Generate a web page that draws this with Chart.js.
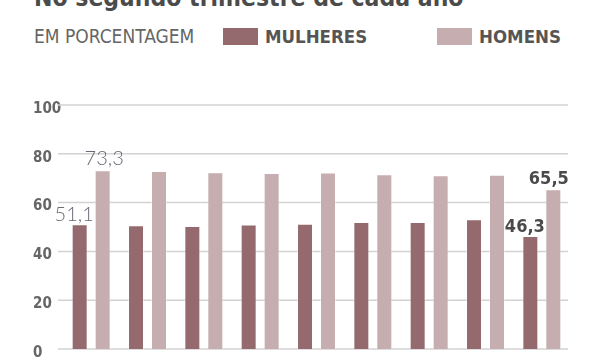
<!DOCTYPE html>
<html>
<head>
<meta charset="UTF-8">
<style>
  body { margin: 0; background: #fff; }
  .wrap { position: relative; width: 600px; height: 360px; overflow: hidden; }
  .title {
    position: absolute; left: 34px; top: -15px; line-height: 25px;
    font-family: "DejaVu Sans Condensed", sans-serif;
    font-weight: bold; font-size: 24.5px; color: #4b4b4b; white-space: nowrap;
  }
  .sub {
    position: absolute; left: 34px; top: 27px; line-height: 19px;
    font-family: "DejaVu Sans Condensed", sans-serif;
    font-size: 19px; color: #666; white-space: nowrap;
  }
  .leg {
    position: absolute; top: 27px; line-height: 19px;
    font-family: "DejaVu Sans Condensed", sans-serif;
    font-weight: bold; font-size: 18.5px; color: #555; white-space: nowrap;
  }
  .leg span.box { display: inline-block; width: 35px; height: 17px; vertical-align: -2px; margin-right: 7px; }
  canvas { position: absolute; left: 0; top: 0; }
</style>
</head>
<body>
<div class="wrap">
  <div class="title">No segundo trimestre de cada ano</div>
  <div class="sub">EM PORCENTAGEM</div>
  <div class="leg" id="leg0" style="left:223px"></div>
  <div class="leg" id="leg1" style="left:437px"></div>
  <canvas id="myChart" width="600" height="360"></canvas>
</div>
<script src="https://cdn.jsdelivr.net/npm/chart.js"></script>
<script>
// one group per year (9 years)
var categories = ["1", "2", "3", "4", "5", "6", "7", "8", "9"];
var mulheres = [51.1, 50.7, 50.4, 51.0, 51.3, 52.0, 52.0, 53.2, 46.3];
var homens = [73.3, 72.9, 72.4, 72.1, 72.3, 71.6, 71.2, 71.4, 65.5];
var seriesNames = ["MULHERES", "HOMENS"];
var yTicks = [0, 20, 40, 60, 80, 100];

var colors = ["#946a6e", "#c5adb0"];

// legend in html
for (var i = 0; i < seriesNames.length; i++) {
  document.getElementById("leg" + i).innerHTML =
    '<span class="box" style="background:' + colors[i] + '"></span>' + seriesNames[i];
}

// gridlines reach a little further left than the bars' area
var gridLines = {
  id: "gridLines",
  beforeDatasetsDraw: function (chart) {
    var ctx = chart.ctx, y = chart.scales.y;
    ctx.save();
    ctx.strokeStyle = "#d2d2d2";
    ctx.lineWidth = 1.5;
    yTicks.forEach(function (v) {
      var py = y.getPixelForValue(v);
      ctx.beginPath();
      ctx.moveTo(58, py);
      ctx.lineTo(568, py);
      ctx.stroke();
    });
    ctx.restore();
  }
};

// labels for first and last group only
var valueLabels = {
  id: "valueLabels",
  afterDatasetsDraw: function (chart) {
    var ctx = chart.ctx;
    var last = categories.length - 1;
    var light = "300 20px Lato, 'DejaVu Sans', sans-serif";
    var bold = "bold 18px 'DejaVu Sans Condensed', sans-serif";
    var specs = [
      { ds: 0, idx: 0, dx: -5.5, gap: 3, font: light, color: "#686b76" },
      { ds: 1, idx: 0, dx: 1.5, gap: 5, font: light, color: "#686b76" },
      { ds: 0, idx: last, dx: -5.5, gap: 4, font: bold, color: "#4a4a4a" },
      { ds: 1, idx: last, dx: -4.5, gap: 5, font: bold, color: "#4a4a4a" }
    ];
    ctx.save();
    ctx.textAlign = "center";
    ctx.textBaseline = "alphabetic";
    specs.forEach(function (s) {
      var bar = chart.getDatasetMeta(s.ds).data[s.idx];
      var v = chart.data.datasets[s.ds].data[s.idx];
      ctx.font = s.font;
      ctx.fillStyle = s.color;
      ctx.fillText(v.toFixed(1).replace(".", ","), bar.x + s.dx, bar.y - s.gap);
    });
    ctx.restore();
  }
};

new Chart(document.getElementById("myChart"), {
  type: "bar",
  data: {
    labels: categories,
    datasets: [{
      label: seriesNames[0],
      data: mulheres,
      backgroundColor: colors[0],
      borderColor: "rgba(255,255,255,0.4)",
      borderWidth: 1,
      categoryPercentage: 0.816,
      barPercentage: 0.696
    }, {
      label: seriesNames[1],
      data: homens,
      backgroundColor: colors[1],
      borderColor: "rgba(255,255,255,0.4)",
      borderWidth: 1,
      categoryPercentage: 0.816,
      barPercentage: 0.696
    }]
  },
  options: {
    responsive: false,
    animation: false,
    layout: { padding: { top: 105, bottom: 9, left: 33, right: 30 } },
    plugins: { legend: { display: false }, tooltip: { enabled: false } },
    scales: {
      x: { display: false },
      y: {
        min: 0, max: 100,
        afterFit: function (s) { s.width = 30; },
        afterBuildTicks: function (s) { s.ticks = yTicks.map(function (v) { return { value: v }; }); },
        border: { display: false },
        grid: { display: false },
        ticks: {
          crossAlign: "far",
          padding: 2,
          labelOffset: 4,
          color: "#666",
          font: { family: "'DejaVu Sans Condensed', sans-serif", size: 15, weight: "bold" }
        }
      }
    }
  },
  plugins: [gridLines, valueLabels]
});
</script>
</body>
</html>
